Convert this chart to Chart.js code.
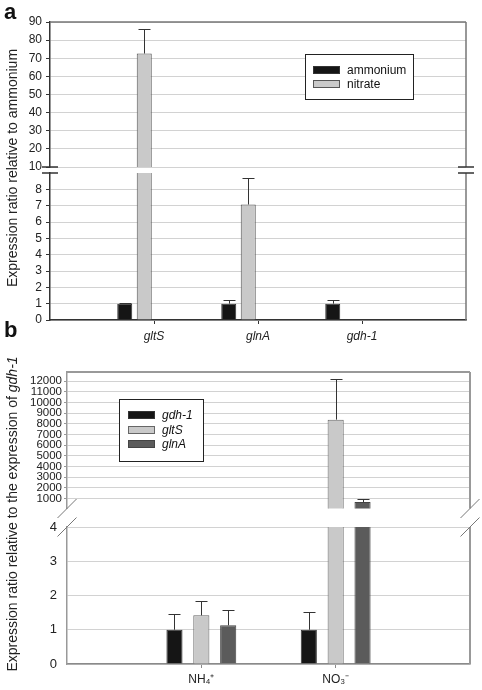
<!DOCTYPE html>
<html>
<head>
<meta charset="utf-8">
<title>Expression ratios</title>
<script src="https://cdn.jsdelivr.net/npm/chart.js@4.4.1/dist/chart.umd.min.js"></script>
<style>
    body { margin: 0; background: #fff; font-family: 'Liberation Sans', Arial, Helvetica, sans-serif; }
    #page { position: relative; width: 482px; height: 690px; overflow: hidden; }
    #page canvas { position: absolute; left: 0; top: 0; }
    .panel-letter { position: absolute; font-weight: bold; font-size: 22px; color: #111; }
    .y-title { position: absolute; font-size: 14px; color: #222; white-space: nowrap;
               transform: translate(-50%, -50%) rotate(-90deg); }
</style>
</head>
<body>
<div id="page">
    <canvas id="chart-a-upper" width="482" height="690"></canvas>
    <canvas id="chart-a-lower" width="482" height="690"></canvas>
    <canvas id="chart-b-upper" width="482" height="690"></canvas>
    <canvas id="chart-b-lower" width="482" height="690"></canvas>
    <div class="panel-letter" style="left:4px; top:-1px;">a</div>
    <div class="panel-letter" style="left:4px; top:317px;">b</div>
    <div class="y-title" id="title-a">Expression ratio relative to ammonium</div>
    <div class="y-title" id="title-b">Expression ratio relative to the expression of <i>gdh-1</i></div>
</div>
<script>
// PANEL A data: nitrogen source ratio per gene
const genesA = ['gltS', 'glnA', 'gdh-1'];
const ammonium = [1.0, 1.0, 1.0];
const ammoniumErr = [0.07, 0.22, 0.25];
const nitrate = [72.6, 7.07, 0.02];
const nitrateErr = [13.5, 1.62, 0];
const unusedSeries = [null, null, null];   // the source sheet had two empty series
const upperTicksA = [10, 20, 30, 40, 50, 60, 70, 80, 90];
const lowerTicksA = [0, 1, 2, 3, 4, 5, 6, 7, 8];

// PANEL B data: ratio relative to gdh-1 per nitrogen source
const sourcesB = ['NH\u2084\u207A', 'NO\u2083\u207B'];
const gdh1 = [1.0, 1.0];
const gdh1Err = [0.45, 0.53];
const gltS = [1.42, 8390];
const gltSErr = [0.42, 3800];
const glnA = [1.13, 650];
const glnAErr = [0.46, 310];
const upperTicksB = [1000, 2000, 3000, 4000, 5000, 6000, 7000, 8000, 9000, 10000, 11000, 12000];
const lowerTicksB = [0, 1, 2, 3, 4];

Chart.defaults.font.family = "'Liberation Sans', Arial, Helvetica, sans-serif";
Chart.defaults.color = '#222';

const BLACK = '#151515', LIGHT = '#c9c9c9', DARK = '#5b5b5b';
const PAGE_H = 690;

// vertical error whiskers (upper side only), clipped to the plot area
const errorBars = {
    id: 'errorBars',
    afterDatasetsDraw(chart, args, opts) {
        const { ctx, chartArea: a, scales: { y } } = chart;
        ctx.save();
        ctx.beginPath();
        ctx.rect(a.left, a.top, a.right - a.left, a.bottom - a.top);
        ctx.clip();
        ctx.strokeStyle = opts.color;
        ctx.lineWidth = 1;
        chart.data.datasets.forEach((ds, i) => {
            if (!ds.errors) return;
            chart.getDatasetMeta(i).data.forEach((bar, j) => {
                const err = ds.errors[j];
                if (!err) return;
                const top = Math.round(y.getPixelForValue(ds.data[j].y + err)) + 0.5;
                const x = Math.round(bar.x) + 0.5;
                ctx.beginPath();
                ctx.moveTo(x, bar.y);
                ctx.lineTo(x, top);
                ctx.moveTo(x - opts.cap / 2, top);
                ctx.lineTo(x + opts.cap / 2, top);
                ctx.stroke();
            });
        });
        ctx.restore();
    }
};

// top / right border of the plot frame
const frame = {
    id: 'frame',
    afterDraw(chart, args, opts) {
        const { ctx, chartArea: a } = chart;
        ctx.save();
        ctx.strokeStyle = opts.color;
        ctx.lineWidth = opts.width;
        ctx.beginPath();
        if (opts.top) {
            ctx.moveTo(a.left, a.top);
            ctx.lineTo(a.right, a.top);
        }
        ctx.moveTo(a.right, a.top);
        ctx.lineTo(a.right, a.bottom);
        ctx.stroke();
        ctx.restore();
    }
};

// axis break marks, drawn by the lower half of each panel
const axisBreak = {
    id: 'axisBreak',
    afterDraw(chart, args, o) {
        const { ctx, chartArea: a } = chart;
        const yUp = a.top - o.gap;
        const yLow = a.top;
        ctx.save();
        ctx.strokeStyle = o.color;
        ctx.lineWidth = o.width;
        [a.left, a.right].forEach(x => {
            ctx.beginPath();
            if (o.slanted) {
                ctx.moveTo(x - o.size, yUp + o.size);
                ctx.lineTo(x + o.size, yUp - o.size);
                ctx.moveTo(x - o.size, yLow + o.size);
                ctx.lineTo(x + o.size, yLow - o.size);
            } else {
                ctx.moveTo(x - o.size, yUp);
                ctx.lineTo(x + o.size, yUp);
                ctx.moveTo(x - o.size, yLow);
                ctx.lineTo(x + o.size, yLow);
            }
            ctx.stroke();
        });
        ctx.restore();
    }
};

// boxed legend placed inside the plot
const boxLegend = {
    id: 'boxLegend',
    afterDraw(chart, args, o) {
        const { ctx } = chart;
        ctx.save();
        ctx.fillStyle = '#fff';
        ctx.fillRect(o.x, o.y, o.w, o.h);
        ctx.strokeStyle = '#222';
        ctx.lineWidth = 1;
        ctx.strokeRect(o.x + 0.5, o.y + 0.5, o.w, o.h);
        ctx.font = (o.italic ? 'italic ' : '') + '12px ' + Chart.defaults.font.family;
        ctx.textBaseline = 'middle';
        chart.data.datasets.filter(d => d.label).forEach((d, i) => {
            const cy = Math.round(o.y + o.first + i * o.row);
            const sx = o.x + o.pad;
            ctx.fillStyle = d.backgroundColor;
            ctx.fillRect(sx, cy - 4, 27, 8);
            ctx.strokeStyle = d.borderColor;
            ctx.strokeRect(sx + 0.5, cy - 3.5, 26, 7);
            ctx.fillStyle = '#111';
            ctx.fillText(d.label, sx + 34, cy + 1);
        });
        ctx.restore();
    }
};

function series(label, values, errors, fill, border) {
    return {
        label,
        data: values.map((v, i) => ({ x: i + 1, y: v })),
        errors,
        backgroundColor: fill,
        borderColor: border,
        borderWidth: 1,
        borderSkipped: 'start'
    };
}

function xScale(names, show, o) {
    return {
        type: 'linear',
        display: show,
        offset: false,
        min: 0,
        max: o.max,
        afterBuildTicks: s => { s.ticks = names.map((n, i) => ({ value: i + 1 })); },
        afterFit: s => { s.height = show ? o.height : 0; },
        grid: { drawOnChartArea: false, offset: false, drawTicks: true, tickLength: 4, tickColor: o.color },
        border: { color: o.color, width: 1.5 },
        ticks: {
            callback: v => names[v - 1] || '',
            font: { size: 12, style: o.italic ? 'italic' : 'normal' },
            color: '#222',
            padding: o.pad,
            maxRotation: 0,
            autoSkip: false
        }
    };
}

function yScale(o) {
    return {
        type: 'linear',
        min: o.min,
        max: o.max,
        afterBuildTicks: s => { s.ticks = o.ticks.map(v => ({ value: v })); },
        afterFit: s => { s.width = o.width; },
        grid: { color: '#d2d2d2', lineWidth: 1, drawTicks: o.tickLen > 0, tickLength: o.tickLen, tickColor: o.color },
        border: { color: o.color, width: 1.5 },
        ticks: { font: { size: o.font }, color: '#222', padding: o.pad, autoSkip: false, callback: v => String(v) }
    };
}

function makeChart(id, datasets, o) {
    return new Chart(document.getElementById(id), {
        type: 'bar',
        data: { datasets },
        options: {
            responsive: false,
            animation: false,
            events: [],
            categoryPercentage: o.catPct,
            barPercentage: o.barPct,
            layout: { padding: { top: o.top, bottom: PAGE_H - o.bottom - (o.xShow ? o.xHeight : 0), left: 0, right: o.right } },
            scales: {
                x: xScale(o.names, o.xShow, { max: o.xMax, height: o.xHeight, color: o.axisColor, italic: o.italic, pad: o.xPad }),
                y: yScale(o.y)
            },
            plugins: {
                legend: { display: false },
                tooltip: { enabled: false },
                errorBars: { color: '#333', cap: 12 },
                frame: o.frame,
                axisBreak: o.axisBreak || {},
                boxLegend: o.legend || {}
            }
        },
        plugins: [errorBars, frame]
            .concat(o.axisBreak ? [axisBreak] : [])
            .concat(o.legend ? [boxLegend] : [])
    });
}

// PANEL A
function datasetsA() {
    return [
        series('ammonium', ammonium, ammoniumErr, BLACK, '#333'),
        series('nitrate', nitrate, nitrateErr, LIGHT, '#555'),
        series('', unusedSeries, null, LIGHT, '#555'),
        series('', unusedSeries, null, LIGHT, '#555')
    ];
}
const panelA = { names: genesA, xMax: genesA.length + 1, xHeight: 30, xPad: 5, italic: true,
                 axisColor: '#333', catPct: 0.75, barPct: 0.77, right: 16 };

makeChart('chart-a-upper', datasetsA(), Object.assign({}, panelA, {
    top: 22, bottom: 167, xShow: false,
    y: { min: 10, max: 90, ticks: upperTicksA, width: 50, font: 12, pad: 4, tickLen: 4, color: '#333' },
    frame: { color: '#777', width: 1.5, top: true },
    legend: { x: 305, y: 54, w: 108, h: 45, first: 16, row: 14, pad: 8, italic: false }
}));
makeChart('chart-a-lower', datasetsA(), Object.assign({}, panelA, {
    top: 173, bottom: 320, xShow: true,
    y: { min: 0, max: 9, ticks: lowerTicksA, width: 50, font: 12, pad: 4, tickLen: 4, color: '#333' },
    frame: { color: '#777', width: 1.5, top: false },
    axisBreak: { gap: 6, size: 8, color: '#333', width: 1.5, slanted: false }
}));

// PANEL B
function datasetsB() {
    return [
        series('gdh-1', gdh1, gdh1Err, BLACK, '#333'),
        series('gltS', gltS, gltSErr, LIGHT, '#666'),
        series('glnA', glnA, glnAErr, DARK, '#444')
    ];
}
const panelB = { names: sourcesB, xMax: sourcesB.length + 1, xHeight: 26, xPad: 4, italic: false,
                 axisColor: '#8a8a8a', catPct: 0.6, barPct: 0.6, right: 12 };

makeChart('chart-b-upper', datasetsB(), Object.assign({}, panelB, {
    top: 372, bottom: 508.5, xShow: false,
    y: { min: 50, max: 12860, ticks: upperTicksB, width: 67, font: 11.5, pad: 2, tickLen: 3, color: '#999' },
    frame: { color: '#999', width: 2, top: true },
    legend: { x: 119, y: 399, w: 84, h: 62, first: 16, row: 14.5, pad: 9, italic: true }
}));
makeChart('chart-b-lower', datasetsB(), Object.assign({}, panelB, {
    top: 527, bottom: 664, xShow: true,
    y: { min: 0, max: 4, ticks: lowerTicksB, width: 67, font: 13, pad: 10, tickLen: 0, color: '#999' },
    frame: { color: '#999', width: 2, top: false },
    axisBreak: { gap: 18.5, size: 9.5, color: '#777', width: 1, slanted: true }
}));

// rotated axis titles spanning both halves of each panel
const titleA = document.getElementById('title-a');
titleA.style.left = '12px';
titleA.style.top = '168px';
const titleB = document.getElementById('title-b');
titleB.style.left = '12px';
titleB.style.top = '514px';
</script>
</body>
</html>
